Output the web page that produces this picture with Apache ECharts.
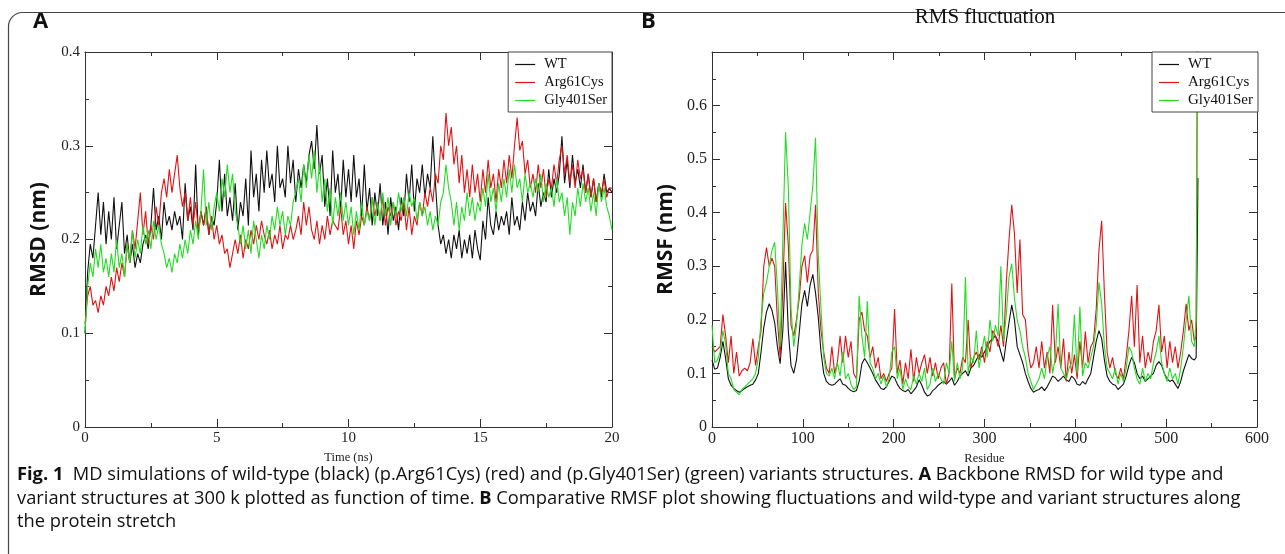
<!DOCTYPE html>
<html><head><meta charset="utf-8">
<script src="https://cdn.jsdelivr.net/npm/echarts@6/dist/echarts.min.js"></script>
<style>html,body{margin:0;padding:0;background:#fff;}#c{width:1285px;height:554px;}</style>
</head><body><div id="c"></div><script>
// ---------- DATA ----------
const seriesNames = ['WT', 'Arg61Cys', 'Gly401Ser'];
const timeStep = 0.1; // ns, sampling of RMSD traces
// Panel A: backbone RMSD (nm) vs time (ns), 0..20 ns
const rmsdWT = [
0.100,0.165,0.195,0.180,0.215,0.250,0.205,0.240,0.195,0.230,
0.200,0.245,0.190,0.215,0.240,0.185,0.205,0.175,0.195,0.170,
0.185,0.175,0.195,0.205,0.190,0.215,0.255,0.210,0.225,0.200,
0.240,0.215,0.225,0.210,0.230,0.215,0.225,0.200,0.260,0.220,
0.235,0.210,0.280,0.205,0.230,0.215,0.235,0.205,0.225,0.215,
0.240,0.285,0.230,0.270,0.225,0.245,0.220,0.260,0.210,0.240,
0.225,0.265,0.215,0.295,0.245,0.270,0.230,0.285,0.250,0.295,
0.255,0.270,0.240,0.300,0.255,0.265,0.245,0.300,0.260,0.285,
0.240,0.275,0.255,0.280,0.260,0.290,0.305,0.275,0.322,0.270,
0.290,0.235,0.265,0.225,0.295,0.250,0.270,0.230,0.285,0.245,
0.275,0.240,0.290,0.245,0.265,0.225,0.280,0.230,0.255,0.215,
0.250,0.225,0.260,0.215,0.240,0.205,0.245,0.220,0.235,0.210,
0.245,0.225,0.270,0.240,0.280,0.230,0.265,0.250,0.280,0.245,
0.270,0.255,0.310,0.260,0.215,0.195,0.205,0.185,0.200,0.180,
0.205,0.190,0.210,0.180,0.200,0.185,0.205,0.180,0.210,0.190,
0.178,0.220,0.200,0.245,0.215,0.205,0.230,0.210,0.225,0.215,
0.230,0.205,0.245,0.215,0.225,0.210,0.240,0.220,0.250,0.230,
0.240,0.225,0.260,0.235,0.250,0.240,0.275,0.245,0.265,0.250,
0.270,0.310,0.260,0.285,0.255,0.290,0.260,0.275,0.255,0.280,
0.250,0.270,0.245,0.265,0.240,0.260,0.245,0.270,0.250,0.255,
0.250];
const rmsdArg61Cys = [
0.110,0.140,0.150,0.130,0.135,0.122,0.140,0.130,0.150,0.140,
0.160,0.145,0.170,0.155,0.175,0.160,0.195,0.175,0.210,0.190,
0.220,0.250,0.205,0.230,0.195,0.215,0.200,0.235,0.215,0.250,
0.265,0.245,0.275,0.250,0.270,0.290,0.255,0.235,0.250,0.220,
0.245,0.215,0.240,0.210,0.230,0.215,0.235,0.205,0.225,0.200,
0.215,0.195,0.205,0.185,0.190,0.170,0.185,0.200,0.185,0.205,
0.180,0.200,0.190,0.210,0.195,0.215,0.200,0.220,0.205,0.195,
0.210,0.190,0.205,0.195,0.215,0.190,0.205,0.200,0.215,0.200,
0.210,0.225,0.205,0.240,0.215,0.235,0.210,0.200,0.220,0.195,
0.215,0.200,0.225,0.205,0.220,0.215,0.210,0.235,0.205,0.220,
0.195,0.215,0.190,0.220,0.205,0.225,0.215,0.235,0.220,0.245,
0.225,0.240,0.220,0.245,0.215,0.235,0.225,0.240,0.215,0.230,
0.220,0.240,0.210,0.235,0.205,0.225,0.215,0.240,0.225,0.250,
0.235,0.255,0.240,0.270,0.260,0.300,0.285,0.335,0.300,0.320,
0.280,0.300,0.260,0.290,0.250,0.275,0.245,0.280,0.250,0.270,
0.240,0.275,0.250,0.285,0.255,0.270,0.240,0.275,0.255,0.285,
0.260,0.290,0.265,0.300,0.330,0.295,0.305,0.270,0.285,0.255,
0.270,0.250,0.280,0.255,0.275,0.245,0.265,0.255,0.280,0.260,
0.285,0.300,0.270,0.290,0.260,0.280,0.255,0.285,0.265,0.275,
0.250,0.270,0.245,0.265,0.240,0.260,0.250,0.265,0.245,0.255,
0.255];
const rmsdGly401Ser = [
0.100,0.150,0.175,0.160,0.190,0.170,0.195,0.165,0.180,0.160,
0.185,0.165,0.200,0.170,0.185,0.160,0.195,0.175,0.210,0.180,
0.200,0.185,0.215,0.195,0.210,0.190,0.220,0.200,0.215,0.195,
0.185,0.170,0.180,0.165,0.185,0.175,0.195,0.180,0.200,0.185,
0.210,0.195,0.220,0.200,0.230,0.275,0.215,0.240,0.210,0.235,
0.250,0.230,0.265,0.245,0.280,0.250,0.270,0.230,0.215,0.195,
0.215,0.190,0.210,0.185,0.220,0.200,0.180,0.205,0.190,0.215,
0.200,0.225,0.210,0.235,0.215,0.230,0.205,0.225,0.215,0.240,
0.250,0.265,0.240,0.280,0.255,0.290,0.265,0.295,0.250,0.280,
0.240,0.265,0.230,0.255,0.215,0.245,0.225,0.250,0.220,0.240,
0.215,0.235,0.205,0.230,0.210,0.240,0.215,0.230,0.220,0.245,
0.215,0.240,0.220,0.250,0.225,0.245,0.215,0.240,0.225,0.250,
0.230,0.245,0.225,0.250,0.235,0.245,0.220,0.240,0.225,0.235,
0.215,0.230,0.210,0.225,0.215,0.240,0.250,0.280,0.255,0.240,
0.215,0.240,0.210,0.235,0.220,0.250,0.225,0.245,0.220,0.240,
0.230,0.255,0.235,0.270,0.240,0.255,0.230,0.260,0.240,0.265,
0.245,0.275,0.250,0.280,0.255,0.265,0.240,0.270,0.250,0.260,
0.245,0.265,0.250,0.270,0.240,0.260,0.245,0.255,0.235,0.265,
0.240,0.250,0.225,0.245,0.205,0.240,0.225,0.255,0.235,0.260,
0.240,0.255,0.230,0.250,0.225,0.260,0.240,0.255,0.235,0.225,
0.210];

// Panel B: RMSF (nm) per residue
const residueStep = 3;
const residueLast = 531;
const residueTail = [533, 535];
const rmsfWT = [
0.125,0.108,0.110,0.130,0.160,0.128,0.090,0.078,0.072,0.068,
0.065,0.068,0.072,0.075,0.078,0.080,0.088,0.100,0.140,0.185,
0.215,0.230,0.218,0.195,0.150,0.118,0.180,0.308,0.180,0.115,
0.100,0.125,0.175,0.230,0.255,0.225,0.265,0.285,0.250,0.205,
0.140,0.100,0.085,0.080,0.078,0.080,0.085,0.090,0.080,0.078,
0.072,0.068,0.066,0.068,0.085,0.118,0.128,0.120,0.110,0.100,
0.088,0.080,0.072,0.070,0.075,0.085,0.095,0.092,0.080,0.072,
0.068,0.066,0.070,0.062,0.068,0.075,0.088,0.078,0.065,0.058,
0.060,0.068,0.072,0.078,0.082,0.085,0.080,0.085,0.092,0.078,
0.085,0.095,0.100,0.105,0.095,0.110,0.115,0.125,0.135,0.130,
0.140,0.150,0.160,0.165,0.170,0.160,0.140,0.122,0.160,0.195,
0.228,0.200,0.150,0.135,0.120,0.100,0.085,0.072,0.065,0.068,
0.070,0.075,0.068,0.075,0.085,0.095,0.092,0.085,0.090,0.095,
0.088,0.085,0.095,0.090,0.080,0.078,0.085,0.080,0.090,0.100,
0.130,0.160,0.180,0.165,0.125,0.095,0.085,0.080,0.078,0.070,
0.075,0.080,0.095,0.115,0.130,0.120,0.100,0.090,0.095,0.085,
0.090,0.095,0.100,0.115,0.122,0.115,0.100,0.090,0.085,0.088,
0.080,0.072,0.085,0.105,0.120,0.135,0.128,0.125,0.130,0.465];
const rmsfArg61Cys = [
0.150,0.140,0.145,0.150,0.210,0.170,0.120,0.170,0.100,0.140,
0.095,0.105,0.110,0.105,0.120,0.165,0.115,0.150,0.180,0.300,
0.335,0.300,0.315,0.300,0.200,0.130,0.260,0.418,0.340,0.190,
0.170,0.200,0.240,0.300,0.320,0.270,0.320,0.330,0.415,0.250,
0.180,0.140,0.110,0.100,0.150,0.100,0.120,0.170,0.120,0.170,
0.130,0.160,0.100,0.090,0.200,0.215,0.180,0.170,0.130,0.150,
0.110,0.130,0.090,0.100,0.085,0.100,0.110,0.220,0.100,0.125,
0.080,0.120,0.090,0.145,0.085,0.130,0.100,0.120,0.135,0.100,
0.130,0.095,0.120,0.090,0.110,0.120,0.080,0.100,0.268,0.090,
0.110,0.100,0.130,0.120,0.200,0.110,0.130,0.140,0.125,0.150,
0.120,0.160,0.140,0.180,0.170,0.150,0.190,0.150,0.270,0.350,
0.415,0.360,0.250,0.350,0.210,0.200,0.140,0.110,0.120,0.150,
0.110,0.160,0.110,0.140,0.100,0.228,0.120,0.150,0.110,0.165,
0.085,0.140,0.100,0.135,0.090,0.160,0.110,0.178,0.120,0.150,
0.160,0.220,0.330,0.385,0.250,0.140,0.110,0.130,0.100,0.090,
0.110,0.090,0.130,0.180,0.245,0.150,0.265,0.120,0.170,0.110,
0.140,0.120,0.160,0.180,0.228,0.140,0.170,0.110,0.160,0.120,
0.150,0.110,0.140,0.180,0.230,0.180,0.200,0.160,0.170,0.950];
const rmsfGly401Ser = [
0.190,0.120,0.125,0.140,0.180,0.155,0.100,0.090,0.070,0.065,
0.060,0.070,0.075,0.080,0.085,0.090,0.100,0.130,0.200,0.250,
0.270,0.300,0.330,0.345,0.260,0.150,0.350,0.550,0.450,0.220,
0.150,0.190,0.260,0.340,0.380,0.350,0.400,0.450,0.540,0.320,
0.220,0.130,0.100,0.095,0.110,0.090,0.120,0.095,0.140,0.090,
0.100,0.080,0.070,0.075,0.245,0.170,0.130,0.235,0.120,0.110,
0.090,0.100,0.080,0.095,0.075,0.090,0.140,0.150,0.090,0.110,
0.070,0.090,0.075,0.070,0.095,0.080,0.100,0.085,0.110,0.070,
0.080,0.110,0.085,0.100,0.090,0.080,0.120,0.100,0.160,0.085,
0.120,0.090,0.110,0.280,0.100,0.130,0.120,0.180,0.110,0.140,
0.170,0.130,0.200,0.160,0.190,0.170,0.300,0.160,0.210,0.280,
0.305,0.240,0.200,0.180,0.150,0.130,0.100,0.085,0.070,0.080,
0.090,0.110,0.090,0.130,0.150,0.100,0.130,0.230,0.110,0.100,
0.090,0.110,0.120,0.210,0.100,0.225,0.095,0.120,0.110,0.130,
0.150,0.190,0.270,0.230,0.150,0.110,0.100,0.090,0.110,0.080,
0.100,0.085,0.110,0.150,0.140,0.110,0.090,0.080,0.110,0.085,
0.100,0.090,0.120,0.140,0.170,0.120,0.100,0.085,0.110,0.090,
0.100,0.080,0.110,0.150,0.200,0.245,0.160,0.150,0.200,0.950];

// ---------- BUILD ----------
const times = rmsdWT.map((_, i) => +(i * timeStep).toFixed(2));
const residues = [];
for (let r = 0; r <= residueLast; r += residueStep) residues.push(r);
residueTail.forEach(r => residues.push(r));

const SERIF = '"Liberation Serif","Times New Roman",serif';
const SANS = '"Open Sans","Liberation Sans",sans-serif';
const colors = ['#111111', '#e01414', '#22dd22'];
const axisCol = '#333';

function mkX(grid, pos, min, max, interval, fs, name) {
  const show = pos === 'bottom';
  return {
    type: 'value', gridIndex: grid, position: pos, min, max, interval,
    axisLine: { show: true, onZero: false, lineStyle: { color: axisCol, width: 1 } },
    axisTick: { show: true, inside: true, length: 8, lineStyle: { color: axisCol } },
    minorTick: { show: true, splitNumber: 2, length: 4, lineStyle: { color: axisCol } },
    splitLine: { show: false }, minorSplitLine: { show: false },
    axisLabel: { show: show, fontFamily: SERIF, fontSize: fs, color: '#222', margin: 4 },
    name: show ? name : '', nameLocation: 'middle', nameGap: 21,
    nameTextStyle: { fontFamily: SERIF, fontSize: 12.5, color: '#222' }
  };
}
function mkY(grid, pos, min, max, interval, fs, name, showMax) {
  const show = pos === 'left';
  return {
    type: 'value', gridIndex: grid, position: pos, min, max, interval,
    axisLine: { show: true, onZero: false, lineStyle: { color: axisCol, width: 1 } },
    axisTick: { show: true, inside: true, length: 8, lineStyle: { color: axisCol } },
    minorTick: { show: true, splitNumber: 2, length: 4, lineStyle: { color: axisCol } },
    splitLine: { show: false }, minorSplitLine: { show: false },
    axisLabel: { show: show, fontFamily: SERIF, fontSize: fs, color: '#222', margin: 5, showMaxLabel: showMax },
    name: show ? name : '', nameLocation: 'middle', nameGap: 35,
    nameTextStyle: { fontFamily: SANS, fontSize: 21, fontWeight: 'bold', color: '#111' }
  };
}
function mkLegend(right, fs) {
  return {
    data: seriesNames, orient: 'vertical', right: right, top: 52,
    borderColor: '#444', borderWidth: 1, backgroundColor: '#fff',
    padding: [4, 5, 3, 7], itemGap: 1, itemWidth: 20, itemHeight: 1.2, icon: 'rect',
    textStyle: { fontFamily: SERIF, fontSize: fs, lineHeight: 17, color: '#111', padding: [0, 0, 0, 4] },
    selectedMode: false
  };
}

const series = [];
const rmsdSets = [rmsdWT, rmsdArg61Cys, rmsdGly401Ser];
const rmsfSets = [rmsfWT, rmsfArg61Cys, rmsfGly401Ser];
seriesNames.forEach((n, k) => {
  series.push({
    name: n, type: 'line', xAxisIndex: 0, yAxisIndex: 0, showSymbol: false,
    data: rmsdSets[k].map((v, i) => [times[i], v]),
    lineStyle: { width: 1.1, color: colors[k] }, itemStyle: { color: colors[k] }, clip: true
  });
});
seriesNames.forEach((n, k) => {
  series.push({
    name: n, type: 'line', xAxisIndex: 2, yAxisIndex: 2, showSymbol: false,
    data: rmsfSets[k].map((v, i) => [residues[i], v]),
    lineStyle: { width: 1.1, color: colors[k] }, itemStyle: { color: colors[k] }, clip: true
  });
});

const caption1 = '{b|Fig. 1}  MD simulations of wild-type (black) (p.Arg61Cys) (red) and (p.Gly401Ser) (green) variants structures. {b|A} Backbone RMSD for wild type and';
const caption2 = 'variant structures at 300 k plotted as function of time. {b|B} Comparative RMSF plot showing fluctuations and wild-type and variant structures along';
const caption3 = 'the protein stretch';
const CAPF = '"Open Sans","Liberation Sans", Arial, sans-serif';
const capFont = '18.3px ' + CAPF;
const capRich = { b: { fontWeight: 'bold', fontFamily: CAPF, fontSize: 18.3, fill: '#111' } };

const chart = echarts.init(document.getElementById('c'), null, { renderer: 'canvas' });
chart.setOption({
  animation: false,
  backgroundColor: '#fff',
  grid: [
    { left: 85, right: 673, top: 52, bottom: 127 },
    { left: 712, right: 28, top: 52, bottom: 127 }
  ],
  xAxis: [
    mkX(0, 'bottom', 0, 20, 5, 15, 'Time (ns)'),
    mkX(0, 'top', 0, 20, 5, 15, ''),
    mkX(1, 'bottom', 0, 600, 100, 16, 'Residue'),
    mkX(1, 'top', 0, 600, 100, 16, '')
  ],
  yAxis: [
    mkY(0, 'left', 0, 0.4, 0.1, 15, 'RMSD (nm)', true),
    mkY(0, 'right', 0, 0.4, 0.1, 15, '', true),
    mkY(1, 'left', 0, 0.7, 0.1, 16, 'RMSF (nm)', false),
    mkY(1, 'right', 0, 0.7, 0.1, 16, '', false)
  ],
  legend: [mkLegend(673, 14.5), mkLegend(27, 15)],
  series: series,
  graphic: [
    { type: 'rect', silent: true, shape: { x: 8.5, y: 12.5, width: 1400, height: 800, r: 14 },
      style: { fill: 'none', stroke: '#444', lineWidth: 1.2 }, z: -10 },
    { type: 'text', x: 33, y: 22, style: { text: 'A', font: 'bold 22px ' + SANS, fill: '#111', verticalAlign: 'middle' } },
    { type: 'text', x: 641, y: 22, style: { text: 'B', font: 'bold 22px ' + SANS, fill: '#111', verticalAlign: 'middle' } },
    { type: 'text', x: 985, y: 17, style: { text: 'RMS fluctuation', font: '21px ' + SERIF, fill: '#111', align: 'center', verticalAlign: 'middle' } },
    { type: 'text', x: 17, y: 475, style: { text: caption1, font: capFont, fill: '#111', verticalAlign: 'middle', rich: capRich } },
    { type: 'text', x: 17, y: 499, style: { text: caption2, font: capFont, fill: '#111', verticalAlign: 'middle', rich: capRich } },
    { type: 'text', x: 17, y: 522, style: { text: caption3, font: capFont, fill: '#111', verticalAlign: 'middle', rich: capRich } }
  ]
});
</script></body></html>
